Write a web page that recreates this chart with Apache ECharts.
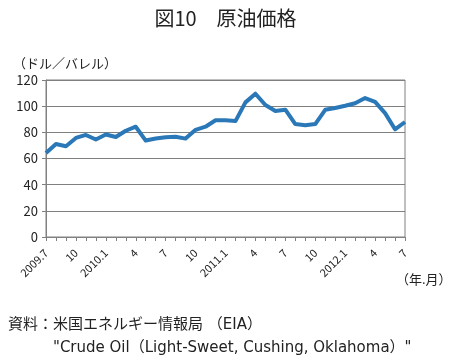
<!DOCTYPE html>
<html><head><meta charset="utf-8">
<script src="https://cdn.jsdelivr.net/npm/echarts@6/dist/echarts.min.js"></script>
<style>html,body{margin:0;padding:0;background:#fff}#c{width:451px;height:362px}</style>
</head><body><div id="c"></div>
<script>
const categories = ['2009.7','2009.8','2009.9','2009.10','2009.11','2009.12',
 '2010.1','2010.2','2010.3','2010.4','2010.5','2010.6','2010.7','2010.8','2010.9','2010.10','2010.11','2010.12',
 '2011.1','2011.2','2011.3','2011.4','2011.5','2011.6','2011.7','2011.8','2011.9','2011.10','2011.11','2011.12',
 '2012.1','2012.2','2012.3','2012.4','2012.5','2012.6','2012.7'];
const prices = [64.2,71.1,69.4,75.7,78.0,74.5,
 78.3,76.4,81.2,84.3,73.7,75.3,76.3,76.6,75.2,81.9,84.3,89.2,
 89.2,88.6,102.9,109.5,100.9,96.3,97.3,86.3,85.5,86.3,97.2,98.6,
 100.3,102.2,106.2,103.3,94.7,82.3,87.9];
const tickLabels = ['2009.7','10','2010.1','4','7','10','2011.1','4','7','10','2012.1','4','7'];
const yTicks = [0,20,40,60,80,100,120];

const font = '"Noto Sans CJK JP", "Noto Sans", sans-serif';
const wideFont = '"DejaVu Sans", "Noto Sans CJK JP", sans-serif';
const chart = echarts.init(document.getElementById('c'), null, {renderer:'canvas'});
chart.setOption({
  animation:false,
  textStyle:{fontFamily:font},
  title:{text:'図10　原油価格', left:'center', top:3,
    textStyle:{fontFamily:font, fontSize:20, fontWeight:'normal', color:'#222'}},
  graphic:[
    {type:'text', left:13, top:57, style:{text:'（ドル／バレル）', font:'13px '+font, fill:'#222'}},
    {type:'text', left:396, top:273, style:{text:'（年.月）', font:'13px '+font, fill:'#222'}},
    {type:'text', left:8, top:318, style:{text:'資料：米国エネルギー情報局 （EIA）', font:'15px '+wideFont, fill:'#222'}},
    {type:'text', left:53, top:341, style:{text:'"Crude Oil（Light-Sweet, Cushing, Oklahoma）"', font:'15px '+wideFont, fill:'#222'}}
  ],
  grid:{left:46, right:46, top:80, bottom:125, show:true, borderColor:'#808080', borderWidth:1},
  xAxis:{type:'category', data:categories, boundaryGap:false,
    axisLine:{lineStyle:{color:'#808080', width:1}},
    axisTick:{show:true, interval:0, length:4, lineStyle:{color:'#808080'}},
    axisLabel:{interval:2, rotate:45, fontSize:11, color:'#222', margin:14, fontFamily:font,
      formatter:(v,i)=>tickLabels[Math.round(i/3)] || ''},
    splitLine:{show:false}},
  yAxis:{type:'value', min:yTicks[0], max:yTicks[yTicks.length-1], interval:20,
    axisLine:{show:true, lineStyle:{color:'#808080'}},
    axisTick:{show:true, length:4, lineStyle:{color:'#808080'}},
    axisLabel:{fontSize:13, color:'#222', margin:8, fontFamily:font},
    splitLine:{lineStyle:{color:'#808080', width:1}}},
  series:[{type:'line', data:prices, showSymbol:false, symbol:'none',
    lineStyle:{color:'#2a78b8', width:4, join:'round'}, itemStyle:{color:'#2a78b8'}}]
});
</script></body></html>
